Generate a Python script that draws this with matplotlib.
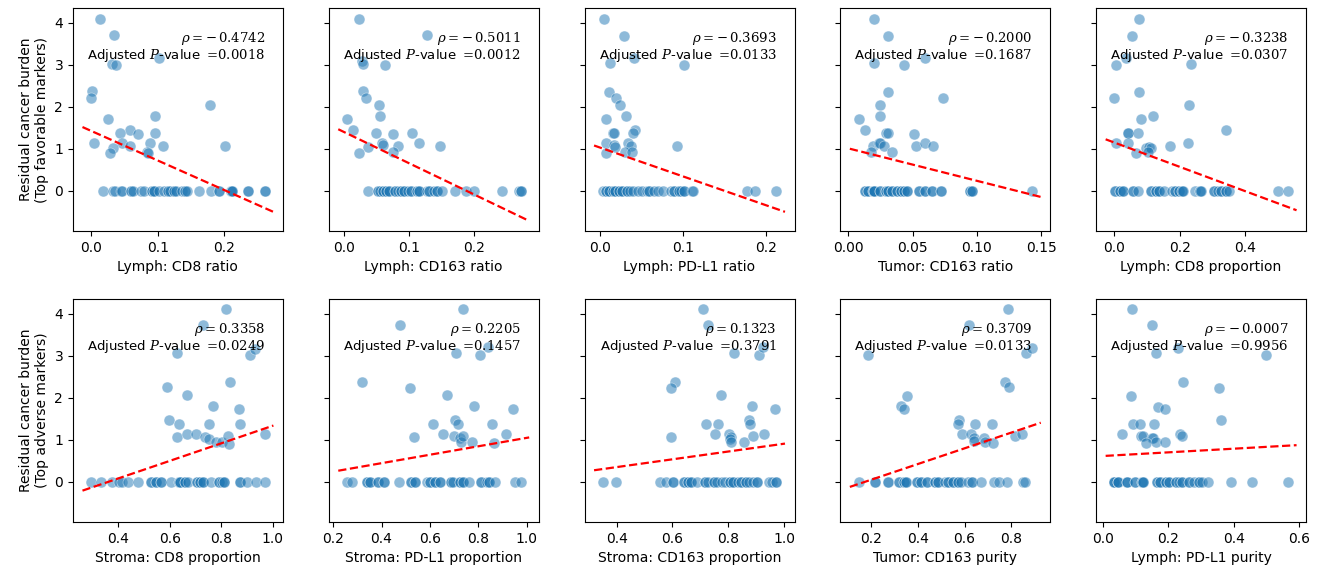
import numpy as np
import matplotlib
matplotlib.use("Agg")
import matplotlib.pyplot as plt

plt.rcParams['mathtext.fontset'] = 'dejavuserif'

# ---- data (x = marker value, y = residual cancer burden) ----
# pN_x / pN_y: patients with RCB > 0, pN_x0: patients with RCB = 0 (many overlap)
p1_x = [0.014, 0.035, 0.031, 0.037, 0.102, 0.002, 0.000, 0.179, 0.026, 0.096, 0.058, 0.043,
        0.070, 0.096, 0.005, 0.047, 0.058, 0.089, 0.108, 0.201, 0.033, 0.028, 0.084, 0.085]
p1_y = [4.08, 3.70, 3.02, 2.99, 3.16, 2.37, 2.22, 2.04, 1.71, 1.78, 1.44, 1.37,
        1.36, 1.37, 1.13, 1.13, 1.07, 1.13, 1.07, 1.07, 1.01, 0.89, 0.93, 0.89]
p1_x0 = [0.018, 0.033, 0.036, 0.045, 0.047, 0.060, 0.060, 0.063, 0.075, 0.079, 0.092, 0.092,
         0.095, 0.095, 0.102, 0.109, 0.116, 0.116, 0.119, 0.124, 0.124, 0.128, 0.136, 0.141,
         0.141, 0.144, 0.162, 0.180, 0.193, 0.193, 0.210, 0.210, 0.212, 0.212, 0.236, 0.236,
         0.261, 0.261]

p2_x = [0.024, 0.128, 0.028, 0.029, 0.063, 0.029, 0.034, 0.054, 0.055, 0.005, 0.015, 0.049,
        0.075, 0.105, 0.037, 0.058, 0.061, 0.083, 0.116, 0.148, 0.024, 0.075]
p2_y = [4.08, 3.70, 3.10, 3.02, 3.00, 2.37, 2.22, 2.04, 1.78, 1.71, 1.44, 1.37,
        1.36, 1.37, 1.05, 1.13, 1.09, 1.07, 1.13, 1.07, 0.89, 0.92]
p2_x0 = [0.038, 0.053, 0.053, 0.055, 0.060, 0.060, 0.065, 0.065, 0.070, 0.070, 0.078, 0.078,
         0.083, 0.088, 0.088, 0.093, 0.093, 0.098, 0.103, 0.103, 0.113, 0.113, 0.115, 0.115,
         0.128, 0.130, 0.130, 0.138, 0.143, 0.143, 0.150, 0.170, 0.188, 0.200, 0.243, 0.269,
         0.271, 0.271]

p3_x = [0.004, 0.029, 0.012, 0.041, 0.101, 0.010, 0.019, 0.024, 0.031, 0.007, 0.042, 0.040,
        0.015, 0.017, 0.007, 0.017, 0.018, 0.034, 0.037, 0.007, 0.030, 0.038, 0.093]
p3_y = [4.08, 3.68, 3.04, 3.16, 3.00, 2.35, 2.22, 2.04, 1.78, 1.71, 1.44, 1.38,
        1.37, 1.37, 1.13, 1.09, 1.05, 1.13, 1.07, 0.89, 0.92, 0.92, 1.07]
p3_x0 = [0.003, 0.007, 0.007, 0.011, 0.011, 0.015, 0.015, 0.018, 0.018, 0.022, 0.022, 0.026,
         0.026, 0.032, 0.032, 0.036, 0.040, 0.046, 0.050, 0.056, 0.059, 0.059, 0.065, 0.069,
         0.075, 0.085, 0.089, 0.089, 0.095, 0.095, 0.097, 0.101, 0.101, 0.110, 0.112, 0.177,
         0.186, 0.212]

p4_x = [0.020, 0.031, 0.020, 0.043, 0.060, 0.031, 0.074, 0.025, 0.025, 0.008, 0.013, 0.029,
        0.031, 0.051, 0.019, 0.024, 0.025, 0.028, 0.034, 0.018, 0.053, 0.060, 0.066]
p4_y = [4.08, 3.68, 3.04, 3.00, 3.16, 2.35, 2.22, 2.04, 1.78, 1.71, 1.44, 1.37,
        1.37, 1.36, 1.07, 1.13, 1.13, 1.07, 0.92, 0.92, 1.07, 1.13, 1.07]
p4_x0 = [0.013, 0.013, 0.015, 0.015, 0.019, 0.019, 0.020, 0.020, 0.020, 0.025, 0.025, 0.029,
         0.029, 0.031, 0.031, 0.034, 0.034, 0.038, 0.038, 0.041, 0.041, 0.043, 0.043, 0.046,
         0.046, 0.055, 0.055, 0.060, 0.060, 0.065, 0.065, 0.072, 0.072, 0.095, 0.095, 0.096,
         0.096, 0.143]

p5_x = [0.077, 0.055, 0.005, 0.035, 0.234, 0.000, 0.077, 0.229, 0.082, 0.120, 0.042, 0.043,
        0.072, 0.342, 0.005, 0.042, 0.067, 0.097, 0.107, 0.112, 0.102, 0.172, 0.227]
p5_y = [4.08, 3.68, 3.00, 3.16, 3.02, 2.22, 2.35, 2.04, 1.71, 1.78, 1.37, 1.38,
        1.37, 1.44, 1.13, 1.13, 0.89, 1.01, 1.05, 1.01, 0.93, 1.07, 1.13]
p5_x0 = [0.002, 0.002, 0.017, 0.017, 0.027, 0.027, 0.057, 0.057, 0.072, 0.112, 0.112, 0.127,
         0.127, 0.137, 0.137, 0.152, 0.177, 0.187, 0.187, 0.197, 0.197, 0.207, 0.207, 0.212,
         0.247, 0.262, 0.262, 0.267, 0.307, 0.307, 0.317, 0.327, 0.327, 0.342, 0.342, 0.352,
         0.502, 0.532]

p6_x = [0.817, 0.729, 0.626, 0.912, 0.933, 0.590, 0.834, 0.666, 0.767, 0.870, 0.596, 0.636,
        0.751, 0.874, 0.628, 0.666, 0.701, 0.735, 0.751, 0.779, 0.804, 0.827, 0.832, 0.969]
p6_y = [4.11, 3.73, 3.06, 3.02, 3.16, 2.25, 2.38, 2.06, 1.81, 1.73, 1.47, 1.37,
        1.37, 1.37, 1.07, 1.13, 1.13, 1.07, 1.03, 0.94, 0.94, 1.10, 0.90, 1.13]
p6_x0 = [0.294, 0.332, 0.376, 0.401, 0.414, 0.436, 0.477, 0.527, 0.527, 0.546, 0.546, 0.565,
         0.565, 0.603, 0.634, 0.634, 0.641, 0.641, 0.660, 0.660, 0.672, 0.704, 0.704, 0.716,
         0.716, 0.729, 0.729, 0.760, 0.792, 0.792, 0.804, 0.811, 0.811, 0.874, 0.874, 0.899,
         0.937, 0.969]

p7_x = [0.739, 0.477, 0.709, 0.807, 0.841, 0.318, 0.516, 0.669, 0.784, 0.943, 0.612, 0.702,
        0.718, 0.857, 0.534, 0.655, 0.700, 0.723, 0.727, 0.738, 0.776, 0.866, 0.913]
p7_y = [4.11, 3.73, 3.06, 3.02, 3.20, 2.38, 2.23, 2.06, 1.81, 1.73, 1.37, 1.47,
        1.39, 1.37, 1.07, 1.13, 1.10, 1.05, 0.94, 1.10, 0.94, 0.92, 1.13]
p7_x0 = [0.257, 0.277, 0.338, 0.338, 0.351, 0.351, 0.385, 0.385, 0.412, 0.412, 0.473, 0.520,
         0.520, 0.540, 0.540, 0.588, 0.601, 0.601, 0.621, 0.621, 0.642, 0.642, 0.689, 0.689,
         0.696, 0.723, 0.723, 0.736, 0.736, 0.763, 0.811, 0.811, 0.838, 0.844, 0.844, 0.871,
         0.952, 0.975]

p8_x = [0.708, 0.727, 0.822, 0.910, 0.925, 0.610, 0.595, 0.773, 0.884, 0.968, 0.720, 0.762,
        0.873, 0.877, 0.595, 0.753, 0.803, 0.809, 0.805, 0.811, 0.855, 0.887, 0.928]
p8_y = [4.11, 3.73, 3.06, 3.02, 3.20, 2.38, 2.23, 2.06, 1.81, 1.73, 1.37, 1.37,
        1.47, 1.39, 1.07, 1.13, 1.15, 1.07, 1.01, 0.94, 0.94, 1.10, 1.13]
p8_x0 = [0.350, 0.396, 0.554, 0.575, 0.601, 0.601, 0.642, 0.642, 0.657, 0.657, 0.665, 0.665,
         0.688, 0.718, 0.718, 0.729, 0.747, 0.747, 0.758, 0.776, 0.787, 0.805, 0.805, 0.817,
         0.817, 0.834, 0.846, 0.846, 0.863, 0.863, 0.875, 0.887, 0.904, 0.904, 0.945, 0.957,
         0.972, 0.972]

p9_x = [0.785, 0.620, 0.187, 0.862, 0.890, 0.774, 0.791, 0.352, 0.327, 0.341, 0.578, 0.571,
        0.645, 0.718, 0.588, 0.627, 0.639, 0.641, 0.683, 0.687, 0.722, 0.818, 0.846]
p9_y = [4.11, 3.73, 3.02, 3.06, 3.18, 2.38, 2.25, 2.05, 1.81, 1.73, 1.47, 1.37,
        1.37, 1.37, 1.13, 1.13, 1.05, 0.98, 1.05, 0.94, 0.92, 1.10, 1.13]
p9_x0 = [0.145, 0.215, 0.215, 0.271, 0.271, 0.320, 0.320, 0.341, 0.341, 0.348, 0.348, 0.397,
         0.397, 0.411, 0.411, 0.438, 0.438, 0.473, 0.473, 0.487, 0.487, 0.515, 0.529, 0.529,
         0.550, 0.550, 0.571, 0.571, 0.585, 0.613, 0.634, 0.634, 0.669, 0.725, 0.746, 0.781,
         0.851, 0.858]

p10_x = [0.089, 0.149, 0.162, 0.228, 0.499, 0.245, 0.354, 0.087, 0.167, 0.191, 0.360, 0.092,
         0.114, 0.157, 0.057, 0.117, 0.122, 0.149, 0.154, 0.131, 0.162, 0.191, 0.236, 0.243]
p10_y = [4.11, 3.73, 3.06, 3.18, 3.02, 2.38, 2.23, 2.05, 1.79, 1.73, 1.47, 1.37,
         1.37, 1.37, 1.13, 1.10, 1.10, 1.05, 1.05, 0.92, 0.94, 0.95, 1.13, 1.09]
p10_x0 = [0.035, 0.035, 0.035, 0.045, 0.045, 0.045, 0.074, 0.074, 0.074, 0.099, 0.099, 0.119,
          0.119, 0.124, 0.124, 0.164, 0.164, 0.174, 0.174, 0.193, 0.193, 0.203, 0.203, 0.223,
          0.223, 0.233, 0.243, 0.243, 0.263, 0.263, 0.278, 0.293, 0.293, 0.303, 0.322, 0.392,
          0.454, 0.565]

markers = ['Lymph: CD8 ratio', 'Lymph: CD163 ratio', 'Lymph: PD-L1 ratio', 'Tumor: CD163 ratio',
           'Lymph: CD8 proportion', 'Stroma: CD8 proportion', 'Stroma: PD-L1 proportion',
           'Stroma: CD163 proportion', 'Tumor: CD163 purity', 'Lymph: PD-L1 purity']
rho = [-0.4742, -0.5011, -0.3693, -0.2000, -0.3238, 0.3358, 0.2205, 0.1323, 0.3709, -0.0007]
p_adj = [0.0018, 0.0012, 0.0133, 0.1687, 0.0307, 0.0249, 0.1457, 0.3791, 0.0133, 0.9956]
row_labels = ['Residual cancer burden\n(Top favorable markers)',
              'Residual cancer burden\n(Top adverse markers)']

panels = [(p1_x, p1_y, p1_x0), (p2_x, p2_y, p2_x0), (p3_x, p3_y, p3_x0), (p4_x, p4_y, p4_x0),
          (p5_x, p5_y, p5_x0), (p6_x, p6_y, p6_x0), (p7_x, p7_y, p7_x0), (p8_x, p8_y, p8_x0),
          (p9_x, p9_y, p9_x0), (p10_x, p10_y, p10_x0)]


def draw_panel(ax, xs, ys, label, r, p):
    ax.scatter(xs, ys, s=62, color='#1f77b4', alpha=0.5, edgecolors='white', linewidths=0.5)
    # fit line over the current x range (like regplot with truncate=False)
    x0, x1 = ax.get_xlim()
    slope, icpt = np.polyfit(xs, ys, 1)
    xx = np.linspace(x0, x1, 100)
    ax.plot(xx, slope * xx + icpt, color='red', ls='--', lw=1.6)
    ax.set_xlabel(label, fontsize=10)
    if r < 0:
        rho_txt = f"$\\rho = -\\,{abs(r):.4f}$"
    else:
        rho_txt = f"$\\rho = {r:.4f}$"
    txt = rho_txt + f"\nAdjusted $P$-value $=\\!{p:.4f}$"
    ax.text(0.915, 0.9, txt, transform=ax.transAxes, ha='right', va='top',
            multialignment='right', fontsize=9.5, linespacing=0.95)


fig, axes = plt.subplots(2, 5, figsize=(13.26, 5.75), dpi=100, sharey=True)
fig.subplots_adjust(left=0.055, right=0.985, bottom=0.092, top=0.986, wspace=0.218, hspace=0.305)

for i, ax in enumerate(axes.flat):
    xn, yn, xz = panels[i]
    xs = np.array(xn + xz)
    ys = np.array(yn + [0.0] * len(xz))
    draw_panel(ax, xs, ys, markers[i], rho[i], p_adj[i])

for r in range(2):
    axes[r, 0].set_ylabel(row_labels[r], fontsize=10)

fig.savefig('out.png', dpi=100)
